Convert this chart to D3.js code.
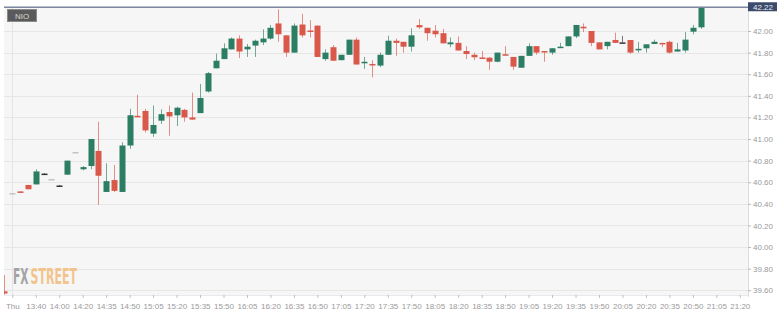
<!DOCTYPE html>
<html><head><meta charset="utf-8">
<script src="https://cdn.jsdelivr.net/npm/d3@7/dist/d3.min.js"></script>
<style>html,body{margin:0;padding:0;background:#fff;}svg{display:block;}</style>
</head><body>
<svg id="c" width="777" height="317"></svg>
<script>
// ---- data (NIO, 5-minute candles) ----
const symbol = "NIO";
const lastPrice = 42.22;
const candleIndex = d3.range(-1, 89);
const open  = [39.59,40.50,40.515,40.575,40.58,40.68,40.63,40.57,40.67,40.88,40.72,40.75,40.89,40.51,40.62,40.51,40.94,41.215,41.26,41.05,41.17,41.25,41.22,41.27,41.20,41.24,41.44,41.655,41.74,41.83,41.93,41.83,41.865,41.895,41.93,42.07,41.96,41.80,42.06,42.005,42.05,41.74,41.85,41.73,41.78,41.92,41.705,41.695,41.68,41.78,41.91,41.90,41.855,42.055,42.03,42.003,41.98,41.877,41.89,41.815,41.78,41.755,41.753,41.716,41.785,41.76,41.66,41.77,41.86,41.815,41.80,41.845,41.86,41.95,42.04,42.00,41.895,41.86,41.917,41.895,41.917,41.825,41.84,41.88,41.89,41.90,41.81,41.82,41.994,42.034];
const high  = [39.74,40.50,40.515,40.575,40.72,40.685,40.63,40.575,40.80,40.88,40.75,41.00,41.16,40.775,40.76,40.97,41.28,41.41,41.28,41.31,41.275,41.31,41.30,41.28,41.43,41.51,41.62,41.79,41.886,41.94,41.96,41.88,41.92,42.016,42.056,42.20,41.96,42.07,42.16,42.10,42.05,41.83,41.87,41.78,41.92,41.94,41.76,41.73,41.80,41.957,41.93,41.90,42.025,42.11,42.03,42.055,42.02,41.94,41.95,41.86,41.80,41.815,41.76,41.80,41.86,41.76,41.77,41.886,41.86,41.815,41.84,41.89,41.95,42.056,42.07,42.00,41.895,41.90,41.985,41.955,41.917,41.90,41.877,41.92,41.89,41.91,41.89,41.99,42.056,42.30];
const low   = [39.56,40.50,40.505,40.535,40.58,40.675,40.63,40.565,40.67,40.88,40.71,40.72,40.39,40.51,40.51,40.51,40.91,41.205,41.06,41.02,41.14,41.03,41.12,41.16,41.18,41.24,41.43,41.655,41.74,41.83,41.75,41.76,41.76,41.87,41.92,41.90,41.76,41.80,41.94,41.94,41.76,41.725,41.725,41.73,41.78,41.69,41.65,41.57,41.665,41.78,41.77,41.80,41.81,42.02,41.91,41.94,41.886,41.85,41.82,41.74,41.73,41.745,41.64,41.71,41.775,41.64,41.66,41.77,41.78,41.716,41.78,41.845,41.86,41.935,41.99,41.86,41.83,41.83,41.89,41.895,41.79,41.80,41.80,41.88,41.85,41.79,41.81,41.80,41.97,42.02];
const close = [39.57,40.50,40.505,40.535,40.70,40.68,40.63,40.57,40.80,40.88,40.74,41.00,40.66,40.61,40.52,40.94,41.22,41.205,41.08,41.13,41.23,41.21,41.29,41.20,41.18,41.38,41.61,41.725,41.84,41.93,41.81,41.855,41.91,41.93,42.03,41.97,41.80,42.05,41.96,41.995,41.76,41.80,41.725,41.78,41.92,41.69,41.715,41.685,41.78,41.91,41.89,41.855,41.96,42.034,41.98,41.97,41.886,41.895,41.82,41.787,41.757,41.745,41.716,41.80,41.775,41.67,41.77,41.86,41.80,41.805,41.84,41.855,41.95,42.056,42.025,41.89,41.83,41.90,41.89,41.895,41.80,41.835,41.877,41.90,41.882,41.80,41.83,41.92,42.03,42.22];
const yTickValues = [39.60,39.80,40.00,40.20,40.40,40.60,40.80,41.00,41.20,41.40,41.60,41.80,42.00];
const xTickIndex  = d3.range(0, 94, 3);
const xTickLabels = ["Thu","13:40","14:00","14:20","14:35","14:50","15:05","15:20","15:35","15:50","16:05","16:20","16:35","16:50","17:05","17:20","17:35","17:50","18:05","18:20","18:35","18:50","19:05","19:20","19:35","19:50","20:05","20:20","20:35","20:50","21:05","21:20"];

// ---- layout ----
const plot = {left: 4, right: 748, top: 6.5, bottom: 295};
const svg = d3.select("#c");

const x = d3.scaleLinear().domain([0, 93]).range([12.3, 739.8]);
const y = d3.scaleLinear().domain([39.556, 42.227]).range([plot.bottom, plot.top]);

const GREEN = "#2b7d63", RED = "#d9584a", DARK = "#333", GRAY = "#c4c4c4";

svg.append("defs").append("clipPath").attr("id","pc")
  .append("rect").attr("x",plot.left).attr("y",plot.top)
  .attr("width",plot.right-plot.left).attr("height",plot.bottom-plot.top);

svg.append("rect").attr("x",plot.left).attr("y",plot.top)
  .attr("width",plot.right-plot.left).attr("height",plot.bottom-plot.top)
  .attr("fill","#f6f6f6");

// horizontal gridlines
svg.append("g").selectAll("line").data(yTickValues).join("line")
  .attr("x1",plot.left).attr("x2",plot.right)
  .attr("y1",d=>Math.round(y(d))+0.5).attr("y2",d=>Math.round(y(d))+0.5)
  .attr("stroke","#e6e6e6").attr("stroke-width",1);
// day separator
svg.append("line").attr("x1",Math.round(x(0))+0.5).attr("x2",Math.round(x(0))+0.5)
  .attr("y1",plot.top).attr("y2",plot.bottom).attr("stroke","#e4e4ec").attr("stroke-width",1);
// right border
svg.append("line").attr("x1",plot.right+0.5).attr("x2",plot.right+0.5)
  .attr("y1",plot.top).attr("y2",plot.bottom+2).attr("stroke","#dcdcdc");
// bottom border
svg.append("line").attr("x1",plot.left).attr("x2",plot.right)
  .attr("y1",plot.bottom+0.5).attr("y2",plot.bottom+0.5).attr("stroke","#e8e8ee");

// watermark: each word squeezed to its width in the reference
const wmFont = "'Liberation Sans Narrow','DejaVu Sans Condensed','Roboto',sans-serif";
function wmWord(txt, x0, width, fill){
  const gg = svg.append("g");
  const t = gg.append("text").attr("x",0).attr("y",0)
    .attr("font-family",wmFont).attr("font-size",22).attr("font-weight","bold")
    .attr("fill",fill).text(txt);
  const w = t.node().getComputedTextLength();
  gg.attr("transform",`translate(${x0},284) scale(${width/w},1)`);
}
wmWord("FX", 13, 15.5, "#a3a3a3");
wmWord("STREET", 30.5, 46.5, "#f2c48c");

// candles
const candles = candleIndex.map((k,i)=>({k, o:open[i], h:high[i], l:low[i], c:close[i]}));
function col(d){
  if (d.c > d.o) return GREEN;
  if (d.c < d.o) return RED;
  return (d.h === d.l) ? GRAY : DARK;
}
const g = svg.append("g").attr("clip-path","url(#pc)");
const bw = 6;
g.selectAll("line.w").data(candles).join("line").attr("class","w")
  .attr("x1",d=>Math.round(x(d.k))+0.5).attr("x2",d=>Math.round(x(d.k))+0.5)
  .attr("y1",d=>y(d.h)).attr("y2",d=>y(d.l))
  .attr("stroke",col).attr("stroke-opacity",0.65).attr("stroke-width",1);
g.selectAll("rect.b").data(candles).join("rect").attr("class","b")
  .attr("x",d=>Math.round(x(d.k))+0.5-bw/2)
  .attr("width",bw)
  .attr("y",d=>Math.min(y(d.o),y(d.c)))
  .attr("height",d=>Math.max(1.5, Math.abs(y(d.o)-y(d.c))))
  .attr("fill",col);

// last price line
svg.append("line").attr("x1",plot.left).attr("x2",plot.right)
  .attr("y1",y(lastPrice)).attr("y2",y(lastPrice))
  .attr("stroke","#7d87a0").attr("stroke-width",1.5);

// y axis
const yAxis = d3.axisRight(y).tickValues(yTickValues).tickSize(3).tickPadding(2)
  .tickFormat(d3.format(".2f"));
const ya = svg.append("g").attr("transform",`translate(${plot.right},0)`).call(yAxis);
ya.select(".domain").remove();
ya.selectAll("line").attr("stroke","#b8b8b8");
ya.selectAll("text").attr("fill","#9a9a9a").attr("font-size",8)
  .attr("font-family","'Liberation Sans',Arial,sans-serif");

// last price label
svg.append("rect").attr("x",plot.right).attr("y",y(lastPrice)-5).attr("width",29).attr("height",9)
  .attr("fill","#3c4b6c");
svg.append("text").attr("x",plot.right+15).attr("y",y(lastPrice)+2.5)
  .attr("text-anchor","middle").attr("fill","#e8ecf3").attr("font-size",8)
  .attr("font-family","'Liberation Sans',Arial,sans-serif").text(lastPrice.toFixed(2));

// x axis
const xAxis = d3.axisBottom(x).tickValues(xTickIndex).tickSize(3).tickPadding(5)
  .tickFormat((d,i)=>xTickLabels[i]);
const xa = svg.append("g").attr("transform",`translate(0,${plot.bottom})`).call(xAxis);
xa.select(".domain").remove();
xa.selectAll("line").attr("stroke","#c0c0c0");
xa.selectAll("text").attr("fill","#9a9a9a").attr("font-size",8)
  .attr("font-family","'Liberation Sans',Arial,sans-serif");

// symbol badge
svg.append("rect").attr("x",7.5).attr("y",9.5).attr("width",29).attr("height",12)
  .attr("fill","#5a5a5a").attr("stroke","#8a8a8a").attr("stroke-width",1);
svg.append("text").attr("x",15).attr("y",18.5).attr("fill","#d8d8d8").attr("font-size",8)
  .attr("font-family","'Liberation Sans',Arial,sans-serif").text(symbol);
</script>
</body></html>
